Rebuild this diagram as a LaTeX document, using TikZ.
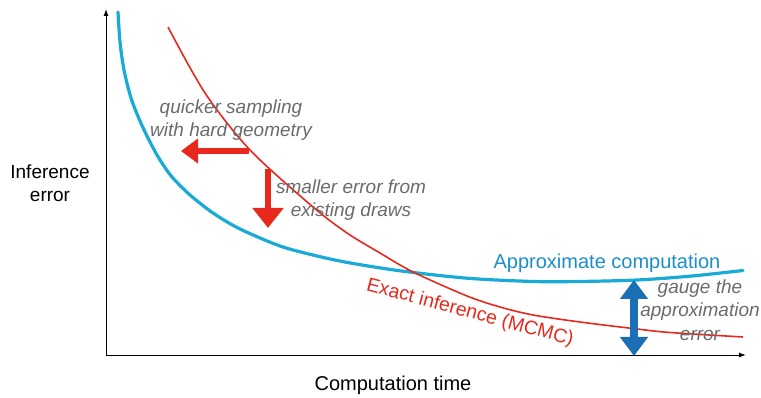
\documentclass[tikz,border=0pt]{standalone}
\usepackage{fontspec}
\setmainfont{Liberation Sans}
\usetikzlibrary{arrows.meta}
\definecolor{cblue}{HTML}{1AAAD6}
\definecolor{lblue}{HTML}{1B8ECB}
\definecolor{dblue}{HTML}{1B6FB5}
\definecolor{cred}{HTML}{E8281C}
\definecolor{cgray}{HTML}{6B6B6B}
\tikzset{
  axis/.style={line width=1pt, -{Latex[length=7pt,width=5pt]}},
  graylbl/.style={text=cgray, font=\fontsize{19}{23.5}\selectfont\itshape, align=center, inner sep=0pt},
  blacklbl/.style={text=black, font=\fontsize{19}{23}\selectfont, align=center, inner sep=0pt},
  redarrow/.style={cred, line width=5.5pt},
}
\begin{document}
\begin{tikzpicture}[x=1pt,y=-1pt]
\useasboundingbox (0,0) rectangle (761,398);
% axes
\coordinate (origin) at (106,355);
\coordinate (ytop) at (106,9);
\coordinate (xend) at (746,355);
\draw[axis] (origin) -- (ytop);
\draw[axis] (origin) -- (xend);
% blue curve
\draw[cblue, line width=3.2pt, line cap=round] plot[smooth, tension=0.5] coordinates {
 (118,12) (120,42) (124,70) (131,98) (140,121) (150,142) (160,160) (172,177)
 (190,195) (213,213) (240,229) (280,246) (313,255) (347,262.4) (400,270.8)
 (467,278.2) (533,281.5) (580,281.5) (637,280) (690,276.2) (743,270.5)};
% red curve
\draw[cred, line width=1.6pt] plot[smooth, tension=0.5] coordinates {
 (168,27) (205,93) (250,150) (313,207) (347,233) (380,253) (413,272)
 (467,296) (500,307) (533,315) (580,322) (637,329) (670,332.5) (743,337)};
% labels
\node[text=lblue, font=\fontsize{20}{23}\selectfont, inner sep=0pt] (approx) at (607,263) {Approximate computation};
\node[text=cred, font=\fontsize{19.5}{23}\selectfont, inner sep=0pt, rotate=-15] (exact) at (470,313) {Exact inference (MCMC)};
\node[graylbl] (quick) at (231,120) {quicker sampling\\with hard geometry};
\node[graylbl] (small) at (351,200) {smaller error from\\existing draws};
\node[graylbl] (gauge) at (700,310) {gauge the\\approximation\\error};
\node[blacklbl] (ylab) at (50,183) {Inference\\error};
\node[blacklbl, font=\fontsize{20}{23}\selectfont] (xlab) at (393,385) {Computation time};
% red arrows
\coordinate (l1) at (249,151);
\coordinate (l2) at (181,151);
\draw[redarrow, -{Triangle[width=24pt,length=17pt]}] (l1) -- (l2);
\coordinate (d1) at (268,169);
\coordinate (d2) at (268,228);
\draw[redarrow, -{Triangle[width=30pt,length=20pt]}] (d1) -- (d2);
% blue double arrow
\coordinate (b1) at (634,280);
\coordinate (b2) at (634,356);
\draw[dblue, line width=7.5pt, {Triangle[width=27pt,length=19pt]}-{Triangle[width=27pt,length=19pt]}] (b1) -- (b2);
\end{tikzpicture}
\end{document}
